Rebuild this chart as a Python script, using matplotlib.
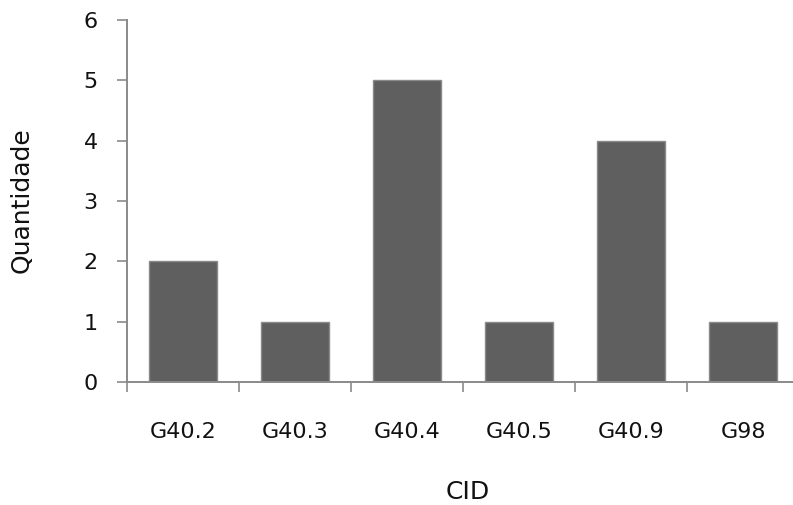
import matplotlib
matplotlib.use('Agg')
import matplotlib.pyplot as plt
import numpy as np

categorias = ['G40.2', 'G40.3', 'G40.4', 'G40.5', 'G40.9', 'G98']
quantidade = [2, 1, 5, 1, 4, 1]

plt.rcParams['font.family'] = ['DejaVu Sans']

fig = plt.figure(figsize=(7.93, 5.05), dpi=100)
fig.patch.set_facecolor('white')
# axis runs slightly past the right edge of the figure
ax = fig.add_axes([127 / 793, 1 - 382 / 505, 672 / 793, 362 / 505])

x = np.arange(len(categorias))
ax.bar(x, quantidade, width=0.61, color='#5f5f5f', edgecolor='#8a8a8a', linewidth=1.0, zorder=2)

ax.set_xlim(-0.5, len(categorias) - 0.5)
ax.set_ylim(0, 6)
ax.set_yticks(range(0, 7))

# category boundaries get the tick marks, labels sit at the centres
ax.set_xticks(np.arange(-0.5, len(categorias) - 0.5, 1.0))
ax.set_xticklabels([])
ax.set_xticks(x, minor=True)
ax.set_xticklabels(categorias, minor=True)
ax.tick_params(axis='x', which='minor', length=0, pad=29, labelsize=16, labelcolor='#111111')
ax.tick_params(axis='x', which='major', length=7, width=1.2, color='#8a8a8a')
ax.tick_params(axis='y', length=7, width=1.2, color='#8a8a8a', pad=14, labelsize=16, labelcolor='#111111')

for side in ['top', 'right']:
    ax.spines[side].set_visible(False)
for side in ['left', 'bottom']:
    ax.spines[side].set_color('#8a8a8a')
    ax.spines[side].set_linewidth(1.4)

fig.text(22 / 793, 1 - 200 / 505, 'Quantidade', rotation=90, ha='center', va='center',
         fontsize=18, color='#111111')
fig.text(468 / 793, 1 - 492 / 505, 'CID', ha='center', va='center', fontsize=18, color='#111111')

fig.savefig('out.png', dpi=100, facecolor='white')
